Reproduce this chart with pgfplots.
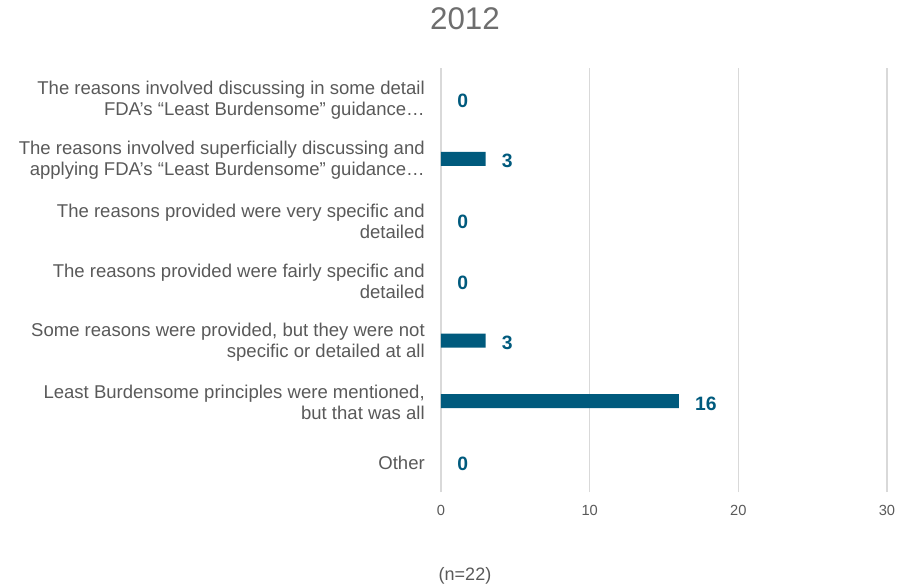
\documentclass[border=0pt]{standalone}
\usepackage{fontspec}
\setmainfont{Liberation Sans}
\usepackage{pgfplots}
\pgfplotsset{compat=1.18}
\definecolor{barc}{RGB}{0,90,125}
\definecolor{txt}{RGB}{89,89,89}
\definecolor{titlec}{RGB}{110,110,110}
\definecolor{gridc}{RGB}{217,217,217}
\begin{document}
\begin{tikzpicture}
\path[use as bounding box] (-330.75pt,-70.5pt) rectangle (351pt,369pt);
\begin{axis}[
  at={(0pt,0pt)}, anchor=south west,
  scale only axis, width=334.5pt, height=318pt,
  xbar, bar width=10.5pt, bar shift=0pt,
  xmin=0, xmax=30, ymin=-0.5, ymax=6.5,
  clip=false,
  ytick={0,1,2,3,4,5,6},
  yticklabels={
    {Other},
    {Least Burdensome principles were mentioned,\\but that was all},
    {Some reasons were provided, but they were not\\specific or detailed at all},
    {The reasons provided were fairly specific and\\detailed},
    {The reasons provided were very specific and\\detailed},
    {The reasons involved superficially discussing and\\applying FDA’s “Least Burdensome” guidance…},
    {The reasons involved discussing in some detail\\FDA’s “Least Burdensome” guidance…}
  },
  xtick={0,10,20,30},
  axis line style={draw=none},
  major tick length=0pt,
  xmajorgrids, grid style={draw=gridc, line width=1.1pt},
  yticklabel style={align=right, inner sep=0pt, xshift=-12pt, yshift=-1.2pt, text=txt,
    font=\fontsize{13.9}{15.8}\selectfont},
  xticklabel style={inner sep=0pt, anchor=north, yshift=-10pt, text=txt,
    font=\fontsize{11}{13}\selectfont},
  /pgf/number format/assume math mode=true,
  nodes near coords,
  nodes near coords style={anchor=west, inner sep=0pt, xshift=12pt, yshift=-1.8pt, text=barc,
    font=\bfseries\fontsize{14.5}{16}\selectfont},
]
\addplot[fill=barc, draw=none] coordinates {
  (16,1) (3,2) (3,5)
};
\addplot[fill=none, draw=none] coordinates {
  (0,0) (0,3) (0,4) (0,6)
};
\end{axis}
\node[text=titlec, font=\fontsize{23.5}{27}\selectfont] at (18pt,355pt) {2012};
\node[text=txt, font=\fontsize{13.5}{15}\selectfont] at (18pt,-63pt) {(n=22)};
\end{tikzpicture}
\end{document}
